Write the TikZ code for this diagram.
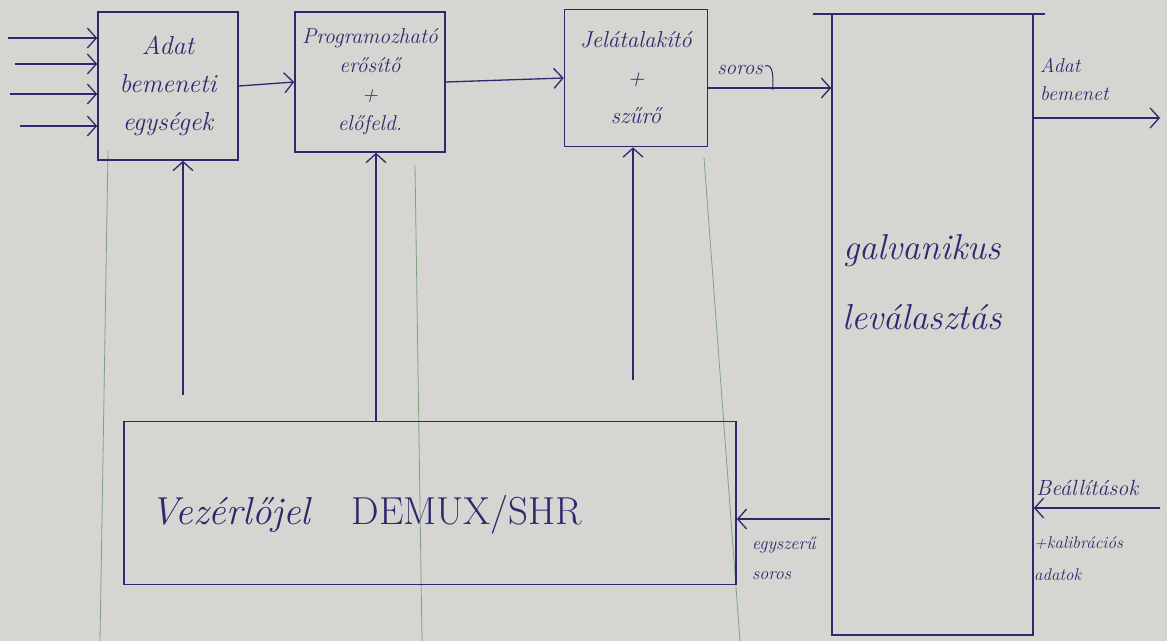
\documentclass[tikz,border=0pt]{standalone}
\usepackage{fontspec}
\usetikzlibrary{arrows.meta,calc}
\definecolor{ink}{HTML}{2B2A6E}
\definecolor{paper}{HTML}{D7D5D2}
\definecolor{ruling}{HTML}{7FA27F}
\begin{document}
\begin{tikzpicture}[x=1pt,y=-1pt,
  inkline/.style={draw=ink, line width=1.6pt},
  blk/.style={inkline, rectangle, inner sep=0pt, text=ink, align=center},
  arr/.style={draw=ink, line width=1.3pt, -{Straight Barb[length=9pt,width=20pt,line width=1.3pt]}},
  lbl/.style={text=ink, inner sep=0pt, align=left},
  ruleline/.style={draw=ruling, line width=0.8pt}]
\fill[paper] (0,0) rectangle (1167,641);
\useasboundingbox (0,0) rectangle (1167,641);

% notebook ruling lines
\draw[ruleline] (108,150) -- (100,641);
\draw[ruleline] (415,165) -- (422,641);
\draw[ruleline] (704,158) -- (740,641);

% blocks
\node[blk, minimum width=140, minimum height=148,
      font=\fontsize{26}{38}\selectfont\itshape] (b1) at (168,86) {Adat\\bemeneti\\egységek};
\node[blk, minimum width=150, minimum height=140,
      font=\fontsize{21.5}{29}\selectfont\itshape] (b2) at (370,82) {Programozható\\erősítő\\+\\előfeld.};
\node[blk, minimum width=143, minimum height=137,
      font=\fontsize{23}{38}\selectfont\itshape] (b3) at (636,78) {Jelátalakító\\+\\szűrő};
\node[blk, minimum width=201, minimum height=621] (big) at (932.5,324.5) {};
\draw[inkline] (813,14) -- (1045,14);
\node[lbl, align=center, font=\fontsize{36}{70}\selectfont\itshape] (galv) at (922,282) {galvanikus\\leválasztás};
\node[blk, minimum width=612, minimum height=163] (vez) at (430,503) {};
\node[lbl, font=\fontsize{39}{40}\selectfont, anchor=west] (vezt) at (150,515) {\textit{Vezérlőjel}\quad DEMUX/SHR};

% input arrows
\coordinate (i1) at (8,38);
\coordinate (i2) at (15,64);
\coordinate (i3) at (10,94);
\coordinate (i4) at (20,126);
\draw[arr] (i1) -- (i1 -| b1.west);
\draw[arr] (i2) -- (i2 -| b1.west);
\draw[arr] (i3) -- (i3 -| b1.west);
\draw[arr] (i4) -- (i4 -| b1.west);

% chain
\draw[arr] (b1.east) -- (b2.west);
\draw[arr] (b2.east) -- (b3.west);
\coordinate (s0) at ([yshift=-10pt]b3.east);
\draw[arr] (s0) -- (s0 -| big.west);
\node[lbl, font=\fontsize{21}{22}\selectfont\itshape] (soros) at (740,70) {soros};
\draw[draw=ink, line width=1pt] (soros.east) ++(2,-4) to[out=20,in=90] ++(8,24);

% output
\coordinate (o0) at (big.east |- 0,118);
\coordinate (o1) at (1160,118);
\draw[arr] (o0) -- (o1);
\node[lbl, font=\fontsize{20}{28}\selectfont\itshape, anchor=west] (outl) at (1040,79) {Adat\\bemenet};

% control arrows upward
\coordinate (u1) at (183,395);
\coordinate (u3) at (633,380);
\draw[arr] (u1) -- (u1 |- b1.south);
\draw[arr] (vez.north -| 376,0) -- (376,0 |- b2.south);
\draw[arr] (u3) -- (u3 |- b3.south);

% serial input of control block
\coordinate (e0) at (830,519);
\draw[arr] (e0) -- (e0 -| vez.east);
\node[lbl, font=\fontsize{18}{30}\selectfont\itshape, anchor=north west] (egy) at (752,537) {egyszerű\\soros};

% settings
\coordinate (c0) at (1160,508);
\draw[arr] (c0) -- (c0 -| big.east);
\node[lbl, font=\fontsize{22}{22}\selectfont\itshape, anchor=west] (beal) at (1036,488) {Beállítások};
\node[lbl, font=\fontsize{17}{32}\selectfont\itshape, anchor=north west] (kal) at (1034,536) {+kalibrációs\\adatok};
\end{tikzpicture}
\end{document}
